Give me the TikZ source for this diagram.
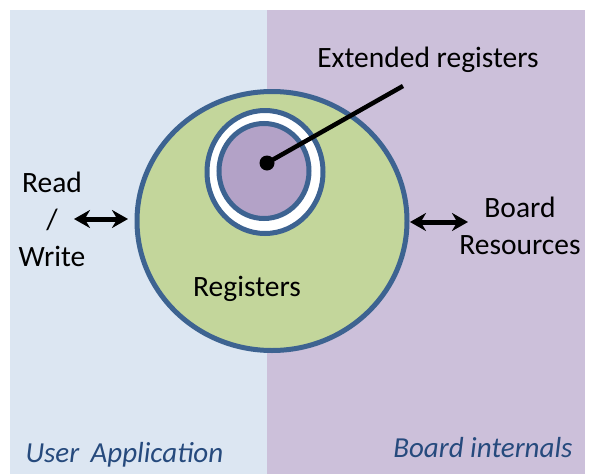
\documentclass[tikz,border=0pt]{standalone}
\usepackage{fontspec}
\setmainfont{Carlito}
\usetikzlibrary{shapes.geometric,arrows.meta}
\definecolor{userbg}{RGB}{220,230,242}
\definecolor{boardbg}{RGB}{204,192,218}
\definecolor{regfill}{RGB}{195,214,155}
\definecolor{regline}{RGB}{61,99,145}
\definecolor{extfill}{RGB}{179,162,199}
\definecolor{sidetext}{RGB}{38,74,125}
\tikzset{
  ring/.style={ellipse,draw=regline,line width=5pt,inner sep=0pt},
  lbl/.style={font=\fontsize{29.5}{37}\selectfont,align=center},
  sidelbl/.style={font=\fontsize{29}{32}\selectfont\itshape,text=sidetext},
  dblarrow/.style={{Stealth[length=16pt,width=18pt]}-{Stealth[length=16pt,width=18pt]},line width=5pt}
}
\begin{document}
\begin{tikzpicture}[x=1pt,y=-1pt]
  \useasboundingbox (0,0) rectangle (589,474);
  % two halves
  \fill[userbg] (10,10) rectangle (267,474);
  \fill[boardbg] (267,10) rectangle (585,474);
  % registers
  \node[ring,fill=regfill,minimum width=270pt,minimum height=259pt] (reg) at (272,221) {};
  \node[ring,fill=white,minimum width=116pt,minimum height=123pt] (extout) at (265,172) {};
  \node[ring,fill=extfill,minimum width=90pt,minimum height=95pt] (ext) at (264,171) {};
  \node[lbl] (reglbl) at (247,289) {Registers};
  % extended registers pointer
  \node[lbl] (extlbl) at (428,60) {Extended registers};
  \node[circle,fill=black,minimum size=15pt,inner sep=0pt] (dot) at (267,163) {};
  \coordinate (tip) at (403,86);
  \draw[line width=4.5pt] (dot.center) -- (tip);
  % sides
  \node[lbl] (rw) at (52,219) {Read\\/\\Write};
  \node[lbl] (board) at (520,226) {Board\\Resources};
  \coordinate (rwa) at (74,219);
  \coordinate (rwb) at (128,219);
  \coordinate (bra) at (410,222);
  \coordinate (brb) at (468,222);
  \draw[dblarrow] (rwa) -- (rwb);
  \draw[dblarrow] (bra) -- (brb);
  \node[sidelbl,anchor=base west] (user) at (22,462) {User\, Application};
  \node[sidelbl,anchor=base east] (internal) at (576,457) {Board internals};
\end{tikzpicture}
\end{document}
